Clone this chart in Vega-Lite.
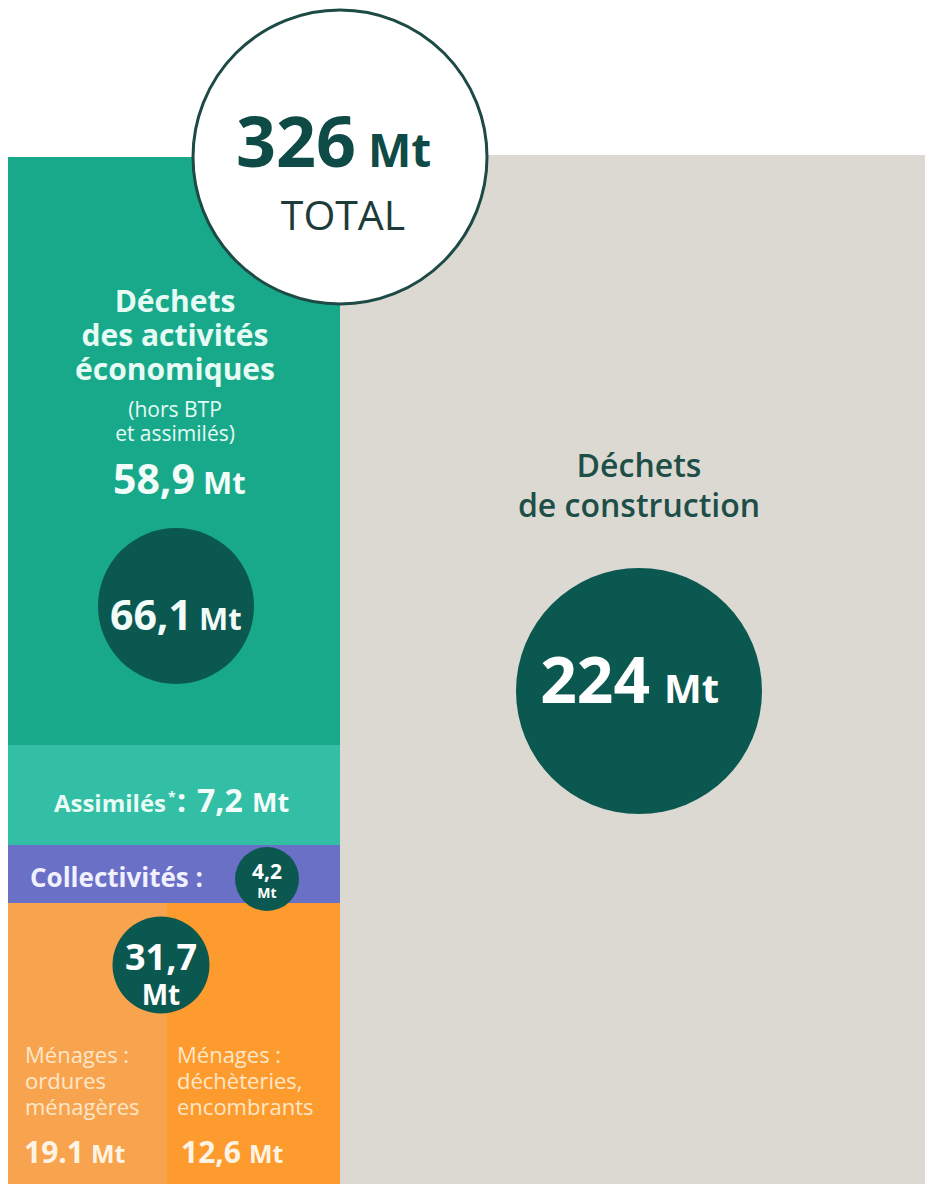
{
  "$schema": "https://vega.github.io/schema/vega-lite/v6.json",
  "width": 925,
  "height": 1184,
  "padding": 0,
  "autosize": {"type": "fit", "contains": "padding"},
  "background": "white",
  "config": {"view": {"stroke": null}, "text": {"font": "Open Sans", "baseline": "alphabetic"}},
  "datasets": {
    "blocks": [
      {"block": "Déchets des activités économiques", "value": 58.9, "x0": 8, "x1": 340, "y0": 157, "y1": 745},
      {"block": "Assimilés", "value": 7.2, "x0": 8, "x1": 340, "y0": 745, "y1": 845},
      {"block": "Collectivités", "value": 4.2, "x0": 8, "x1": 340, "y0": 845, "y1": 903},
      {"block": "Ménages : ordures ménagères", "value": 19.1, "x0": 8, "x1": 167, "y0": 903, "y1": 1184},
      {"block": "Ménages : déchèteries, encombrants", "value": 12.6, "x0": 167, "x1": 340, "y0": 903, "y1": 1184},
      {"block": "Déchets de construction", "value": 224, "x0": 340, "x1": 925, "y0": 155, "y1": 1184}
    ],
    "circles": [
      {"name": "Total", "value": 326, "x": 340, "y": 157},
      {"name": "Déchets de construction", "value": 224, "x": 639, "y": 691},
      {"name": "Déchets des activités économiques", "value": 66.1, "x": 176, "y": 606},
      {"name": "Ménages", "value": 31.7, "x": 161, "y": 965},
      {"name": "Collectivités", "value": 4.2, "x": 267, "y": 879}
    ],
    "labels": [
      {"role": "total_value", "text": "326", "x": 356, "y": 167},
      {"role": "total_unit", "text": "Mt", "x": 368, "y": 167},
      {"role": "total_label", "text": "TOTAL", "x": 343, "y": 230},
      {"role": "eco_title", "text": "Déchets", "x": 175, "y": 312},
      {"role": "eco_title", "text": "des activités", "x": 175, "y": 346},
      {"role": "eco_title", "text": "économiques", "x": 175, "y": 380},
      {"role": "eco_note", "text": "(hors BTP", "x": 175, "y": 417},
      {"role": "eco_note", "text": "et assimilés)", "x": 175, "y": 441},
      {"role": "eco_value", "text": "58,9", "x": 195, "y": 494},
      {"role": "eco_unit", "text": "Mt", "x": 203, "y": 494},
      {"role": "eco_circle_value", "text": "66,1", "x": 192, "y": 630},
      {"role": "eco_circle_unit", "text": "Mt", "x": 199, "y": 630},
      {"role": "cons_title", "text": "Déchets", "x": 639, "y": 477},
      {"role": "cons_title", "text": "de construction", "x": 639, "y": 517},
      {"role": "cons_value", "text": "224", "x": 650, "y": 703},
      {"role": "cons_unit", "text": "Mt", "x": 664, "y": 703},
      {"role": "assim_label", "text": "Assimilés", "x": 166, "y": 812},
      {"role": "assim_star", "text": "*", "x": 168, "y": 802},
      {"role": "assim_value", "text": ":", "x": 177, "y": 812},
      {"role": "assim_value", "text": "7,2", "x": 197, "y": 812},
      {"role": "assim_unit", "text": "Mt", "x": 252, "y": 812},
      {"role": "coll_label", "text": "Collectivités :", "x": 30, "y": 887},
      {"role": "coll_value", "text": "4,2", "x": 267, "y": 879},
      {"role": "coll_unit", "text": "Mt", "x": 267, "y": 898},
      {"role": "men_value", "text": "31,7", "x": 161, "y": 970},
      {"role": "men_unit", "text": "Mt", "x": 161, "y": 1005},
      {"role": "men_text", "text": "Ménages :", "x": 25, "y": 1063},
      {"role": "men_text", "text": "ordures", "x": 25, "y": 1089},
      {"role": "men_text", "text": "ménagères", "x": 25, "y": 1115},
      {"role": "men_text", "text": "Ménages :", "x": 177, "y": 1063},
      {"role": "men_text", "text": "déchèteries,", "x": 177, "y": 1089},
      {"role": "men_text", "text": "encombrants", "x": 177, "y": 1115},
      {"role": "men_sub_value", "text": "19.1", "x": 84, "y": 1163},
      {"role": "men_sub_unit", "text": "Mt", "x": 91, "y": 1163},
      {"role": "men_sub_value", "text": "12,6", "x": 241, "y": 1163},
      {"role": "men_sub_unit", "text": "Mt", "x": 249, "y": 1163}
    ]
  },
  "layer": [
    {
      "data": {"name": "blocks"},
      "mark": {"type": "rect"},
      "encoding": {
        "x": {"field": "x0", "type": "quantitative", "scale": {"domain": [0, 925], "nice": false, "zero": false}, "axis": null},
        "x2": {"field": "x1"},
        "y": {"field": "y0", "type": "quantitative", "scale": {"domain": [0, 1184], "nice": false, "zero": false, "reverse": true}, "axis": null},
        "y2": {"field": "y1"},
        "color": {"field": "block", "type": "nominal", "legend": null,
          "scale": {"domain": ["Déchets des activités économiques", "Assimilés", "Collectivités", "Ménages : ordures ménagères", "Ménages : déchèteries, encombrants", "Déchets de construction"],
                    "range": ["#18a98b", "#33bea6", "#6b70c7", "#f8a44f", "#fd9b2e", "#dbd9d1"]}}
      }
    },
    {
      "data": {"name": "circles"},
      "transform": [{"filter": "datum.name == 'Total'"}],
      "mark": {"type": "point", "shape": "circle", "filled": true, "fill": "white", "stroke": "#1d4a45", "strokeWidth": 3, "opacity": 1},
      "encoding": {
        "x": {"field": "x", "type": "quantitative", "axis": null},
        "y": {"field": "y", "type": "quantitative", "axis": null},
        "size": {"field": "value", "type": "quantitative", "legend": null, "scale": {"type": "linear", "zero": false, "domain": [4.2, 31.7, 66.1, 224, 326], "range": [4096, 9409, 24336, 60516, 86436]}}
      }
    },
    {
      "data": {"name": "circles"},
      "transform": [{"filter": "datum.name != 'Total'"}],
      "mark": {"type": "point", "shape": "circle", "filled": true, "color": "#0b5851", "opacity": 1},
      "encoding": {
        "x": {"field": "x", "type": "quantitative", "axis": null},
        "y": {"field": "y", "type": "quantitative", "axis": null},
        "size": {"field": "value", "type": "quantitative", "legend": null, "scale": {"type": "linear", "zero": false, "domain": [4.2, 31.7, 66.1, 224, 326], "range": [4096, 9409, 24336, 60516, 86436]}}
      }
    },
    {"data": {"name": "labels"}, "transform": [{"filter": {"field": "role", "oneOf": ["total_value"]}}],
     "mark": {"type": "text", "fontWeight": "bold", "fontSize": 70, "align": "right", "color": "#0f4b46"},
     "encoding": {"x": {"field": "x", "type": "quantitative", "axis": null}, "y": {"field": "y", "type": "quantitative", "axis": null}, "text": {"field": "text"}}},
    {"data": {"name": "labels"}, "transform": [{"filter": {"field": "role", "oneOf": ["total_unit"]}}],
     "mark": {"type": "text", "fontWeight": "bold", "fontSize": 46, "align": "left", "color": "#0f4b46"},
     "encoding": {"x": {"field": "x", "type": "quantitative", "axis": null}, "y": {"field": "y", "type": "quantitative", "axis": null}, "text": {"field": "text"}}},
    {"data": {"name": "labels"}, "transform": [{"filter": {"field": "role", "oneOf": ["total_label"]}}],
     "mark": {"type": "text", "fontWeight": "normal", "fontSize": 41, "align": "center", "color": "#1d3b38"},
     "encoding": {"x": {"field": "x", "type": "quantitative", "axis": null}, "y": {"field": "y", "type": "quantitative", "axis": null}, "text": {"field": "text"}}},
    {"data": {"name": "labels"}, "transform": [{"filter": {"field": "role", "oneOf": ["eco_title"]}}],
     "mark": {"type": "text", "fontWeight": "bold", "fontSize": 30, "align": "center", "color": "#e6fbf3"},
     "encoding": {"x": {"field": "x", "type": "quantitative", "axis": null}, "y": {"field": "y", "type": "quantitative", "axis": null}, "text": {"field": "text"}}},
    {"data": {"name": "labels"}, "transform": [{"filter": {"field": "role", "oneOf": ["eco_note"]}}],
     "mark": {"type": "text", "fontWeight": "normal", "fontSize": 21, "align": "center", "color": "#e6fbf3"},
     "encoding": {"x": {"field": "x", "type": "quantitative", "axis": null}, "y": {"field": "y", "type": "quantitative", "axis": null}, "text": {"field": "text"}}},
    {"data": {"name": "labels"}, "transform": [{"filter": {"field": "role", "oneOf": ["eco_value", "eco_circle_value"]}}],
     "mark": {"type": "text", "fontWeight": "bold", "fontSize": 41, "align": "right", "color": "#f2fcf8"},
     "encoding": {"x": {"field": "x", "type": "quantitative", "axis": null}, "y": {"field": "y", "type": "quantitative", "axis": null}, "text": {"field": "text"}}},
    {"data": {"name": "labels"}, "transform": [{"filter": {"field": "role", "oneOf": ["eco_unit", "eco_circle_unit"]}}],
     "mark": {"type": "text", "fontWeight": "bold", "fontSize": 31, "align": "left", "color": "#f2fcf8"},
     "encoding": {"x": {"field": "x", "type": "quantitative", "axis": null}, "y": {"field": "y", "type": "quantitative", "axis": null}, "text": {"field": "text"}}},
    {"data": {"name": "labels"}, "transform": [{"filter": {"field": "role", "oneOf": ["cons_title"]}}],
     "mark": {"type": "text", "fontWeight": 600, "fontSize": 32, "align": "center", "color": "#1d4f48"},
     "encoding": {"x": {"field": "x", "type": "quantitative", "axis": null}, "y": {"field": "y", "type": "quantitative", "axis": null}, "text": {"field": "text"}}},
    {"data": {"name": "labels"}, "transform": [{"filter": {"field": "role", "oneOf": ["cons_value"]}}],
     "mark": {"type": "text", "fontWeight": "bold", "fontSize": 64, "align": "right", "color": "#ffffff"},
     "encoding": {"x": {"field": "x", "type": "quantitative", "axis": null}, "y": {"field": "y", "type": "quantitative", "axis": null}, "text": {"field": "text"}}},
    {"data": {"name": "labels"}, "transform": [{"filter": {"field": "role", "oneOf": ["cons_unit"]}}],
     "mark": {"type": "text", "fontWeight": "bold", "fontSize": 40, "align": "left", "color": "#ffffff"},
     "encoding": {"x": {"field": "x", "type": "quantitative", "axis": null}, "y": {"field": "y", "type": "quantitative", "axis": null}, "text": {"field": "text"}}},
    {"data": {"name": "labels"}, "transform": [{"filter": {"field": "role", "oneOf": ["assim_label"]}}],
     "mark": {"type": "text", "fontWeight": "bold", "fontSize": 24, "align": "right", "color": "#e9fcf6"},
     "encoding": {"x": {"field": "x", "type": "quantitative", "axis": null}, "y": {"field": "y", "type": "quantitative", "axis": null}, "text": {"field": "text"}}},
    {"data": {"name": "labels"}, "transform": [{"filter": {"field": "role", "oneOf": ["assim_star"]}}],
     "mark": {"type": "text", "fontWeight": "bold", "fontSize": 14, "align": "left", "color": "#e9fcf6"},
     "encoding": {"x": {"field": "x", "type": "quantitative", "axis": null}, "y": {"field": "y", "type": "quantitative", "axis": null}, "text": {"field": "text"}}},
    {"data": {"name": "labels"}, "transform": [{"filter": {"field": "role", "oneOf": ["assim_value"]}}],
     "mark": {"type": "text", "fontWeight": "bold", "fontSize": 32, "align": "left", "color": "#f2fdf9"},
     "encoding": {"x": {"field": "x", "type": "quantitative", "axis": null}, "y": {"field": "y", "type": "quantitative", "axis": null}, "text": {"field": "text"}}},
    {"data": {"name": "labels"}, "transform": [{"filter": {"field": "role", "oneOf": ["assim_unit"]}}],
     "mark": {"type": "text", "fontWeight": "bold", "fontSize": 27, "align": "left", "color": "#f2fdf9"},
     "encoding": {"x": {"field": "x", "type": "quantitative", "axis": null}, "y": {"field": "y", "type": "quantitative", "axis": null}, "text": {"field": "text"}}},
    {"data": {"name": "labels"}, "transform": [{"filter": {"field": "role", "oneOf": ["coll_label"]}}],
     "mark": {"type": "text", "fontWeight": "bold", "fontSize": 26, "align": "left", "color": "#f0f1ff"},
     "encoding": {"x": {"field": "x", "type": "quantitative", "axis": null}, "y": {"field": "y", "type": "quantitative", "axis": null}, "text": {"field": "text"}}},
    {"data": {"name": "labels"}, "transform": [{"filter": {"field": "role", "oneOf": ["coll_value"]}}],
     "mark": {"type": "text", "fontWeight": "bold", "fontSize": 21, "align": "center", "color": "#ffffff"},
     "encoding": {"x": {"field": "x", "type": "quantitative", "axis": null}, "y": {"field": "y", "type": "quantitative", "axis": null}, "text": {"field": "text"}}},
    {"data": {"name": "labels"}, "transform": [{"filter": {"field": "role", "oneOf": ["coll_unit"]}}],
     "mark": {"type": "text", "fontWeight": "bold", "fontSize": 14, "align": "center", "color": "#ffffff"},
     "encoding": {"x": {"field": "x", "type": "quantitative", "axis": null}, "y": {"field": "y", "type": "quantitative", "axis": null}, "text": {"field": "text"}}},
    {"data": {"name": "labels"}, "transform": [{"filter": {"field": "role", "oneOf": ["men_value"]}}],
     "mark": {"type": "text", "fontWeight": "bold", "fontSize": 36, "align": "center", "color": "#ffffff"},
     "encoding": {"x": {"field": "x", "type": "quantitative", "axis": null}, "y": {"field": "y", "type": "quantitative", "axis": null}, "text": {"field": "text"}}},
    {"data": {"name": "labels"}, "transform": [{"filter": {"field": "role", "oneOf": ["men_unit"]}}],
     "mark": {"type": "text", "fontWeight": "bold", "fontSize": 28, "align": "center", "color": "#ffffff"},
     "encoding": {"x": {"field": "x", "type": "quantitative", "axis": null}, "y": {"field": "y", "type": "quantitative", "axis": null}, "text": {"field": "text"}}},
    {"data": {"name": "labels"}, "transform": [{"filter": {"field": "role", "oneOf": ["men_text"]}}],
     "mark": {"type": "text", "fontWeight": "normal", "fontSize": 22, "align": "left", "color": "#fde7c9"},
     "encoding": {"x": {"field": "x", "type": "quantitative", "axis": null}, "y": {"field": "y", "type": "quantitative", "axis": null}, "text": {"field": "text"}}},
    {"data": {"name": "labels"}, "transform": [{"filter": {"field": "role", "oneOf": ["men_sub_value"]}}],
     "mark": {"type": "text", "fontWeight": "bold", "fontSize": 30, "align": "right", "color": "#fff4e4"},
     "encoding": {"x": {"field": "x", "type": "quantitative", "axis": null}, "y": {"field": "y", "type": "quantitative", "axis": null}, "text": {"field": "text"}}},
    {"data": {"name": "labels"}, "transform": [{"filter": {"field": "role", "oneOf": ["men_sub_unit"]}}],
     "mark": {"type": "text", "fontWeight": "bold", "fontSize": 25, "align": "left", "color": "#fff4e4"},
     "encoding": {"x": {"field": "x", "type": "quantitative", "axis": null}, "y": {"field": "y", "type": "quantitative", "axis": null}, "text": {"field": "text"}}}
  ]
}
